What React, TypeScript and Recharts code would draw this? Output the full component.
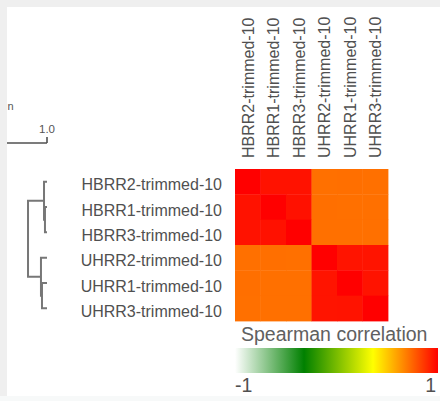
import React from 'react';
import { ScatterChart, Scatter, XAxis, YAxis } from 'recharts';

const FONT = "'Liberation Sans', Arial, Helvetica, sans-serif";

// ---------- data ----------
const rowLabels = [
  'HBRR2-trimmed-10',
  'HBRR1-trimmed-10',
  'HBRR3-trimmed-10',
  'UHRR2-trimmed-10',
  'UHRR1-trimmed-10',
  'UHRR3-trimmed-10',
];
const colLabels = [
  'HBRR2-trimmed-10',
  'HBRR1-trimmed-10',
  'HBRR3-trimmed-10',
  'UHRR2-trimmed-10',
  'UHRR1-trimmed-10',
  'UHRR3-trimmed-10',
];

const corrHBRR2 = [1.0, 0.955, 0.955, 0.718, 0.722, 0.72];
const corrHBRR1 = [0.955, 1.0, 0.958, 0.722, 0.72, 0.72];
const corrHBRR3 = [0.955, 0.958, 1.0, 0.72, 0.72, 0.72];
const corrUHRR2 = [0.718, 0.722, 0.72, 1.0, 0.95, 0.95];
const corrUHRR1 = [0.722, 0.72, 0.72, 0.95, 1.0, 0.952];
const corrUHRR3 = [0.72, 0.72, 0.72, 0.95, 0.952, 1.0];
const corrRows = [corrHBRR2, corrHBRR1, corrHBRR3, corrUHRR2, corrUHRR1, corrUHRR3];

// gradient of the colour scale (-1 .. 1)
const legendStops = [0, 0.34, 0.68, 1];
const legendColors = ['#ffffff', '#008000', '#ffff00', '#ff0000'];
const legendTicks = [-1, 1];
const legendTitle = 'Spearman correlation';

// dendrogram merge levels (similarity), leaves at 1.0
const leafLevel = 1.0;
const hbrrInner = 0.968;
const hbrrJoin = 0.953;
const uhrrInner = 0.921;
const uhrrJoin = 0.905;
const rootJoin = 0.701;
const scaleTicks = [1.0];

// ---------- helpers ----------
const hexToRgb = (h: string) => [
  parseInt(h.slice(1, 3), 16),
  parseInt(h.slice(3, 5), 16),
  parseInt(h.slice(5, 7), 16),
];
const colorFor = (v: number) => {
  const t = (v + 1) / 2;
  let i = 0;
  while (i < legendStops.length - 2 && t > legendStops[i + 1]) i++;
  const f = Math.max(0, Math.min(1, (t - legendStops[i]) / (legendStops[i + 1] - legendStops[i])));
  const a = hexToRgb(legendColors[i]);
  const b = hexToRgb(legendColors[i + 1]);
  const c = a.map((av, k) => Math.round(av + (b[k] - av) * f));
  return `rgb(${c[0]},${c[1]},${c[2]})`;
};

const heatData = corrRows.flatMap((row, i) =>
  row.map((v, j) => ({ x: j + 0.5, y: i + 0.5, v, color: colorFor(v) }))
);
const rowTicks = rowLabels.map((_, i) => i + 0.5);
const colTicks = colLabels.map((_, i) => i + 0.5);

// dendrogram polylines (x = similarity, y = row position)
const r = (i: number) => i + 0.5;
const dendroSegs = [
  [
    { x: leafLevel, y: r(1) },
    { x: hbrrInner, y: r(1) },
    { x: hbrrInner, y: r(2) },
    { x: leafLevel, y: r(2) },
  ],
  [
    { x: leafLevel, y: r(0) },
    { x: hbrrJoin, y: r(0) },
    { x: hbrrJoin, y: r(1.5) },
    { x: hbrrInner, y: r(1.5) },
  ],
  [
    { x: leafLevel, y: r(4) },
    { x: uhrrInner, y: r(4) },
    { x: uhrrInner, y: r(5) },
    { x: leafLevel, y: r(5) },
  ],
  [
    { x: leafLevel, y: r(3) },
    { x: uhrrJoin, y: r(3) },
    { x: uhrrJoin, y: r(4.5) },
    { x: uhrrInner, y: r(4.5) },
  ],
  [
    { x: hbrrJoin, y: r(0.75) },
    { x: rootJoin, y: r(0.75) },
    { x: rootJoin, y: r(3.75) },
    { x: uhrrJoin, y: r(3.75) },
  ],
];

// ---------- layout ----------
const W = 440;
const H = 401;
const PLOT_LEFT = 235;
const PLOT_TOP = 169;
const PLOT_W = 153;
const PLOT_H = 152;
const CELL_W = PLOT_W / colLabels.length;
const CELL_H = PLOT_H / rowLabels.length;

const HeatCell = (props: any) => {
  const { cx, cy, payload } = props;
  return (
    <rect
      x={cx - CELL_W / 2}
      y={cy - CELL_H / 2}
      width={CELL_W + 0.4}
      height={CELL_H + 0.4}
      fill={payload.color}
      stroke="none"
    />
  );
};

const ColTick = (props: any) => {
  const { x, y, payload } = props;
  const label = colLabels[Math.floor(payload.value)];
  return (
    <text
      transform={`translate(${x},${y}) rotate(-90)`}
      x={0}
      y={0}
      dy="0.36em"
      textAnchor="start"
      fontSize={16}
      fontFamily={FONT}
      fill="#505050"
    >
      {label}
    </text>
  );
};

const RowTick = (props: any) => {
  const { x, y, payload } = props;
  const label = rowLabels[Math.floor(payload.value)];
  return (
    <text x={x} y={y} dy={8.5} textAnchor="end" fontSize={16} fontFamily={FONT} fill="#505050">
      {label}
    </text>
  );
};

const Empty = () => <g />;

const DENDRO_LEFT = 7;
const DENDRO_RIGHT = 47;
const DENDRO_TOP = 143;
const rowPx = PLOT_H / rowLabels.length;
const extraRows = (PLOT_TOP - DENDRO_TOP) / rowPx;

export default function App() {
  const grad = legendStops.map((s, i) => (
    <stop key={i} offset={`${s * 100}%`} stopColor={legendColors[i]} />
  ));
  const LEG_X = 235;
  const LEG_W = 203;
  return (
    <div
      style={{
        position: 'absolute',
        left: 0,
        top: 0,
        width: W,
        height: H,
        background: '#efefef',
        fontFamily: FONT,
      }}
    >
      <div
        style={{
          position: 'absolute',
          left: 0,
          top: 396,
          width: W,
          height: 5,
          background: '#f7f9f9',
        }}
      />
      <div
        style={{
          position: 'absolute',
          left: 7,
          top: 7,
          width: W - 7,
          height: 389,
          background: '#ffffff',
          overflow: 'hidden',
        }}
      >
        <div style={{ position: 'absolute', left: -7, top: -7, width: W, height: H }}>
          {/* heatmap */}
          <div style={{ position: 'absolute', left: 0, top: 0 }}>
            <ScatterChart
              width={W}
              height={H}
              margin={{ top: PLOT_TOP - 150, left: PLOT_LEFT - 200, right: W - PLOT_LEFT - PLOT_W, bottom: H - PLOT_TOP - PLOT_H }}
            >
              <XAxis
                type="number"
                dataKey="x"
                orientation="top"
                domain={[0, colLabels.length]}
                ticks={colTicks}
                interval={0}
                height={150}
                axisLine={false}
                tickLine={false}
                tickSize={0}
                tickMargin={11}
                tick={<ColTick />}
              />
              <YAxis
                type="number"
                dataKey="y"
                domain={[0, rowLabels.length]}
                reversed
                ticks={rowTicks}
                interval={0}
                width={200}
                axisLine={false}
                tickLine={false}
                tickSize={0}
                tickMargin={13}
                tick={<RowTick />}
              />
              <Scatter data={heatData} shape={<HeatCell />} isAnimationActive={false} />
            </ScatterChart>
          </div>
          {/* dendrogram */}
          <div style={{ position: 'absolute', left: 0, top: 0 }}>
            <ScatterChart
              width={W}
              height={H}
              margin={{ top: DENDRO_TOP - 43, left: DENDRO_LEFT, right: W - DENDRO_RIGHT, bottom: H - PLOT_TOP - PLOT_H }}
            >
              <XAxis
                type="number"
                dataKey="x"
                orientation="top"
                domain={[0.37, 1.0]}
                ticks={scaleTicks}
                interval={0}
                height={43}
                allowDataOverflow
                axisLine={{ stroke: '#505050', strokeWidth: 1.6 }}
                tickLine={{ stroke: '#505050', strokeWidth: 1.6 }}
                tickSize={6}
                tickMargin={4}
                tickFormatter={(v: number) => v.toFixed(1)}
                tick={{ fontSize: 11.5, fill: '#555', fontFamily: FONT }}
              />
              <YAxis
                type="number"
                dataKey="y"
                domain={[-extraRows, rowLabels.length]}
                reversed
                hide
                width={0}
                allowDataOverflow
              />
              {dendroSegs.map((seg, k) => (
                <Scatter
                  key={k}
                  data={seg}
                  line={{ stroke: '#777777', strokeWidth: 2 }}
                  lineType="joint"
                  shape={<Empty />}
                  isAnimationActive={false}
                />
              ))}
            </ScatterChart>
          </div>
          {/* legend */}
          <svg width={W} height={H} style={{ position: 'absolute', left: 0, top: 0 }}>
            <defs>
              <linearGradient id="spearGrad" x1="0" y1="0" x2="1" y2="0">
                {grad}
              </linearGradient>
            </defs>
            <text x={7.5} y={110} fontSize={11} fill="#555" fontFamily={FONT}>
              n
            </text>
            <text x={LEG_X + 6} y={341} fontSize={19.5} fill="#606060" fontFamily={FONT}>
              {legendTitle}
            </text>
            <rect x={LEG_X} y={348} width={LEG_W} height={25} fill="url(#spearGrad)" />
            {legendTicks.map((t, i) => (
              <text
                key={i}
                x={LEG_X + ((t + 1) / 2) * (LEG_W - 2)}
                y={392}
                fontSize={19.5}
                fill="#505050"
                fontFamily={FONT}
                textAnchor={i === 0 ? 'start' : 'end'}
              >
                {t}
              </text>
            ))}
          </svg>
        </div>
      </div>
    </div>
  );
}
